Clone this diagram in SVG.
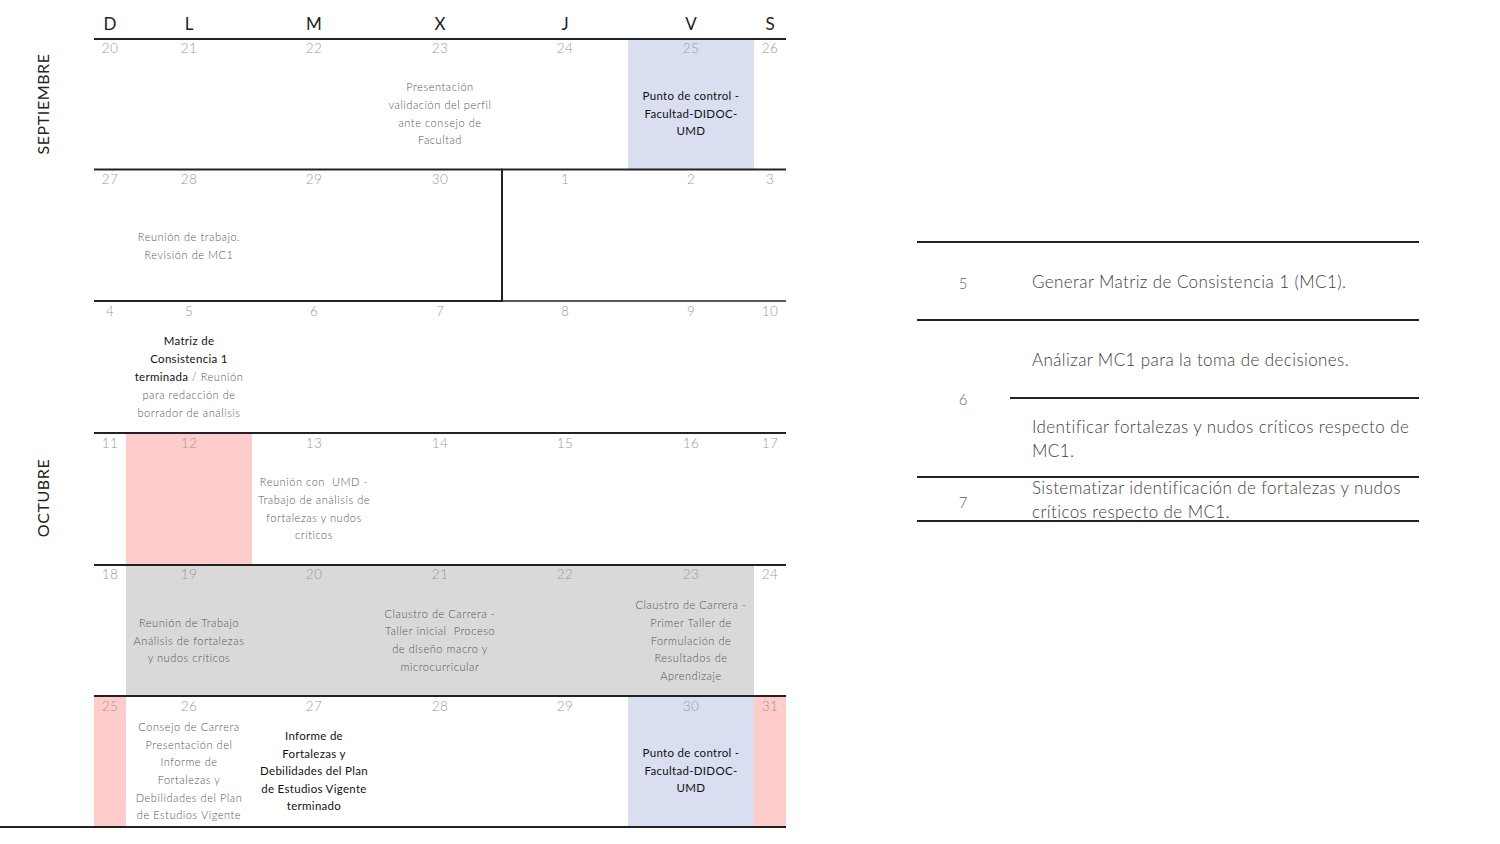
<svg xmlns="http://www.w3.org/2000/svg" width="1500" height="844" viewBox="0 0 1500 844">
<style>
text{font-family:Lato,"Liberation Sans",sans-serif}
.hd{font-size:17px;fill:#222;text-anchor:middle}
.mo{font-size:16px;fill:#222;text-anchor:middle;letter-spacing:0.6px}
.dn{font-size:13.5px;fill:#9a9a9a;text-anchor:middle;font-weight:300;letter-spacing:0.3px}
.ev{font-size:11px;fill:#555;text-anchor:middle;font-weight:300;letter-spacing:0.55px}
.bd{font-size:11.5px;fill:#111;text-anchor:middle;letter-spacing:0.3px}
.ln{stroke:#222;stroke-width:2;fill:none}
.lt{stroke:#222;stroke-width:1.6;fill:none}
.num{font-size:15px;fill:#666;text-anchor:middle;font-weight:300}
.tx{font-size:17px;fill:#404040;font-weight:300;letter-spacing:0.4px}
.blue{fill:#d9dff0}.red{fill:#ffcccc}.gray{fill:#d9d9d9}
</style>
<rect width="1500" height="844" fill="#fff"/>
<g id="fills">
<rect class="blue" x="628" y="40" width="126" height="129"/>
<rect class="red" x="126" y="434" width="126" height="131"/>
<rect class="gray" x="126" y="566" width="628" height="130"/>
<rect class="red" x="94" y="697" width="32" height="130"/>
<rect class="blue" x="628" y="697" width="126" height="130"/>
<rect class="red" x="754" y="697" width="32" height="130"/>
</g>
<g id="header">
<text class="hd" x="110" y="30">D</text>
<text class="hd" x="189" y="30">L</text>
<text class="hd" x="314" y="30">M</text>
<text class="hd" x="440" y="30">X</text>
<text class="hd" x="565" y="30">J</text>
<text class="hd" x="691" y="30">V</text>
<text class="hd" x="770" y="30">S</text>
</g>
<g id="months">
<text class="mo" transform="translate(49,104) rotate(-90)">SEPTIEMBRE</text>
<text class="mo" transform="translate(49,498) rotate(-90)">OCTUBRE</text>
</g>
<g id="grid">
<line class="ln" x1="94" y1="39" x2="786" y2="39"/>
<line class="ln" x1="94" y1="169.5" x2="502" y2="169.5"/>
<polyline class="ln" points="94,301 502,301 502,169.5 786,169.5" stroke-width="2.4"/>
<line class="lt" x1="502" y1="301" x2="786" y2="301"/>
<line class="ln" x1="94" y1="433" x2="786" y2="433"/>
<line class="ln" x1="94" y1="565" x2="786" y2="565"/>
<line class="ln" x1="94" y1="696" x2="786" y2="696"/>
<line class="ln" x1="0" y1="827" x2="786" y2="827"/>
</g>
<g id="days">
<text class="dn" x="110" y="53">20</text><text class="dn" x="189" y="53">21</text><text class="dn" x="314" y="53">22</text><text class="dn" x="440" y="53">23</text><text class="dn" x="565" y="53">24</text><text class="dn" x="691" y="53">25</text><text class="dn" x="770" y="53">26</text>
<text class="dn" x="110" y="184">27</text><text class="dn" x="189" y="184">28</text><text class="dn" x="314" y="184">29</text><text class="dn" x="440" y="184">30</text><text class="dn" x="565" y="184">1</text><text class="dn" x="691" y="184">2</text><text class="dn" x="770" y="184">3</text>
<text class="dn" x="110" y="316">4</text><text class="dn" x="189" y="316">5</text><text class="dn" x="314" y="316">6</text><text class="dn" x="440" y="316">7</text><text class="dn" x="565" y="316">8</text><text class="dn" x="691" y="316">9</text><text class="dn" x="770" y="316">10</text>
<text class="dn" x="110" y="448">11</text><text class="dn" x="189" y="448">12</text><text class="dn" x="314" y="448">13</text><text class="dn" x="440" y="448">14</text><text class="dn" x="565" y="448">15</text><text class="dn" x="691" y="448">16</text><text class="dn" x="770" y="448">17</text>
<text class="dn" x="110" y="579">18</text><text class="dn" x="189" y="579">19</text><text class="dn" x="314" y="579">20</text><text class="dn" x="440" y="579">21</text><text class="dn" x="565" y="579">22</text><text class="dn" x="691" y="579">23</text><text class="dn" x="770" y="579">24</text>
<text class="dn" x="110" y="711">25</text><text class="dn" x="189" y="711">26</text><text class="dn" x="314" y="711">27</text><text class="dn" x="440" y="711">28</text><text class="dn" x="565" y="711">29</text><text class="dn" x="691" y="711">30</text><text class="dn" x="770" y="711">31</text>
</g>
<g id="ev-sep23">
<text class="ev" x="440" y="91">Presentación</text>
<text class="ev" x="440" y="109">validación del perfil</text>
<text class="ev" x="440" y="127">ante consejo de</text>
<text class="ev" x="440" y="144">Facultad</text>
</g>
<g id="ev-sep25">
<text class="bd" x="691" y="100">Punto de control -</text>
<text class="bd" x="691" y="118">Facultad-DIDOC-</text>
<text class="bd" x="691" y="135">UMD</text>
</g>
<g id="ev-sep28">
<text class="ev" x="189" y="241">Reunión de trabajo.</text>
<text class="ev" x="189" y="259">Revisión de MC1</text>
</g>
<g id="ev-oct5">
<text class="bd" x="189" y="345">Matriz de</text>
<text class="bd" x="189" y="363">Consistencia 1</text>
<text class="ev" x="189" y="381"><tspan style="fill:#111;font-weight:400;font-size:11.5px;letter-spacing:0.3px">terminada</tspan> / Reunión</text>
<text class="ev" x="189" y="399">para redacción de</text>
<text class="ev" x="189" y="417">borrador de análisis</text>
</g>
<g id="ev-oct13">
<text class="ev" x="314" y="486" xml:space="preserve">Reunión con  UMD -</text>
<text class="ev" x="314" y="504">Trabajo de análisis de</text>
<text class="ev" x="314" y="522">fortalezas y nudos</text>
<text class="ev" x="314" y="539">críticos</text>
</g>
<g id="ev-oct19">
<text class="ev" x="189" y="627">Reunión de Trabajo</text>
<text class="ev" x="189" y="645">Análisis de fortalezas</text>
<text class="ev" x="189" y="662">y nudos críticos</text>
</g>
<g id="ev-oct21">
<text class="ev" x="440" y="618">Claustro de Carrera -</text>
<text class="ev" x="440" y="635" xml:space="preserve">Taller inicial  Proceso</text>
<text class="ev" x="440" y="653">de diseño macro y</text>
<text class="ev" x="440" y="671">microcurricular</text>
</g>
<g id="ev-oct23">
<text class="ev" x="691" y="609">Claustro de Carrera -</text>
<text class="ev" x="691" y="627">Primer Taller de</text>
<text class="ev" x="691" y="645">Formulación de</text>
<text class="ev" x="691" y="662">Resultados de</text>
<text class="ev" x="691" y="680">Aprendizaje</text>
</g>
<g id="ev-oct26">
<text class="ev" x="189" y="731">Consejo de Carrera</text>
<text class="ev" x="189" y="749">Presentación del</text>
<text class="ev" x="189" y="766">Informe de</text>
<text class="ev" x="189" y="784">Fortalezas y</text>
<text class="ev" x="189" y="802">Debilidades del Plan</text>
<text class="ev" x="189" y="819">de Estudios Vigente</text>
</g>
<g id="ev-oct27">
<text class="bd" x="314" y="740">Informe de</text>
<text class="bd" x="314" y="758">Fortalezas y</text>
<text class="bd" x="314" y="775">Debilidades del Plan</text>
<text class="bd" x="314" y="793">de Estudios Vigente</text>
<text class="bd" x="314" y="810">terminado</text>
</g>
<g id="ev-oct30">
<text class="bd" x="691" y="757">Punto de control -</text>
<text class="bd" x="691" y="775">Facultad-DIDOC-</text>
<text class="bd" x="691" y="792">UMD</text>
</g>
<g id="table">
<line class="ln" x1="917" y1="242" x2="1419" y2="242"/>
<line class="ln" x1="917" y1="320" x2="1419" y2="320"/>
<line class="ln" x1="1010" y1="398" x2="1419" y2="398"/>
<line class="ln" x1="917" y1="477" x2="1419" y2="477"/>
<line class="ln" x1="917" y1="521" x2="1419" y2="521"/>
<text class="num" x="963" y="289">5</text>
<text class="num" x="963" y="405">6</text>
<text class="num" x="963" y="508">7</text>
<text class="tx" x="1032" y="288">Generar Matriz de Consistencia 1 (MC1).</text>
<text class="tx" x="1032" y="366">Análizar MC1 para la toma de decisiones.</text>
<text class="tx" x="1032" y="433">Identificar fortalezas y nudos críticos respecto de</text>
<text class="tx" x="1032" y="457">MC1.</text>
<text class="tx" x="1032" y="494">Sistematizar identificación de fortalezas y nudos</text>
<text class="tx" x="1032" y="518">críticos respecto de MC1.</text>
</g>
</svg>
